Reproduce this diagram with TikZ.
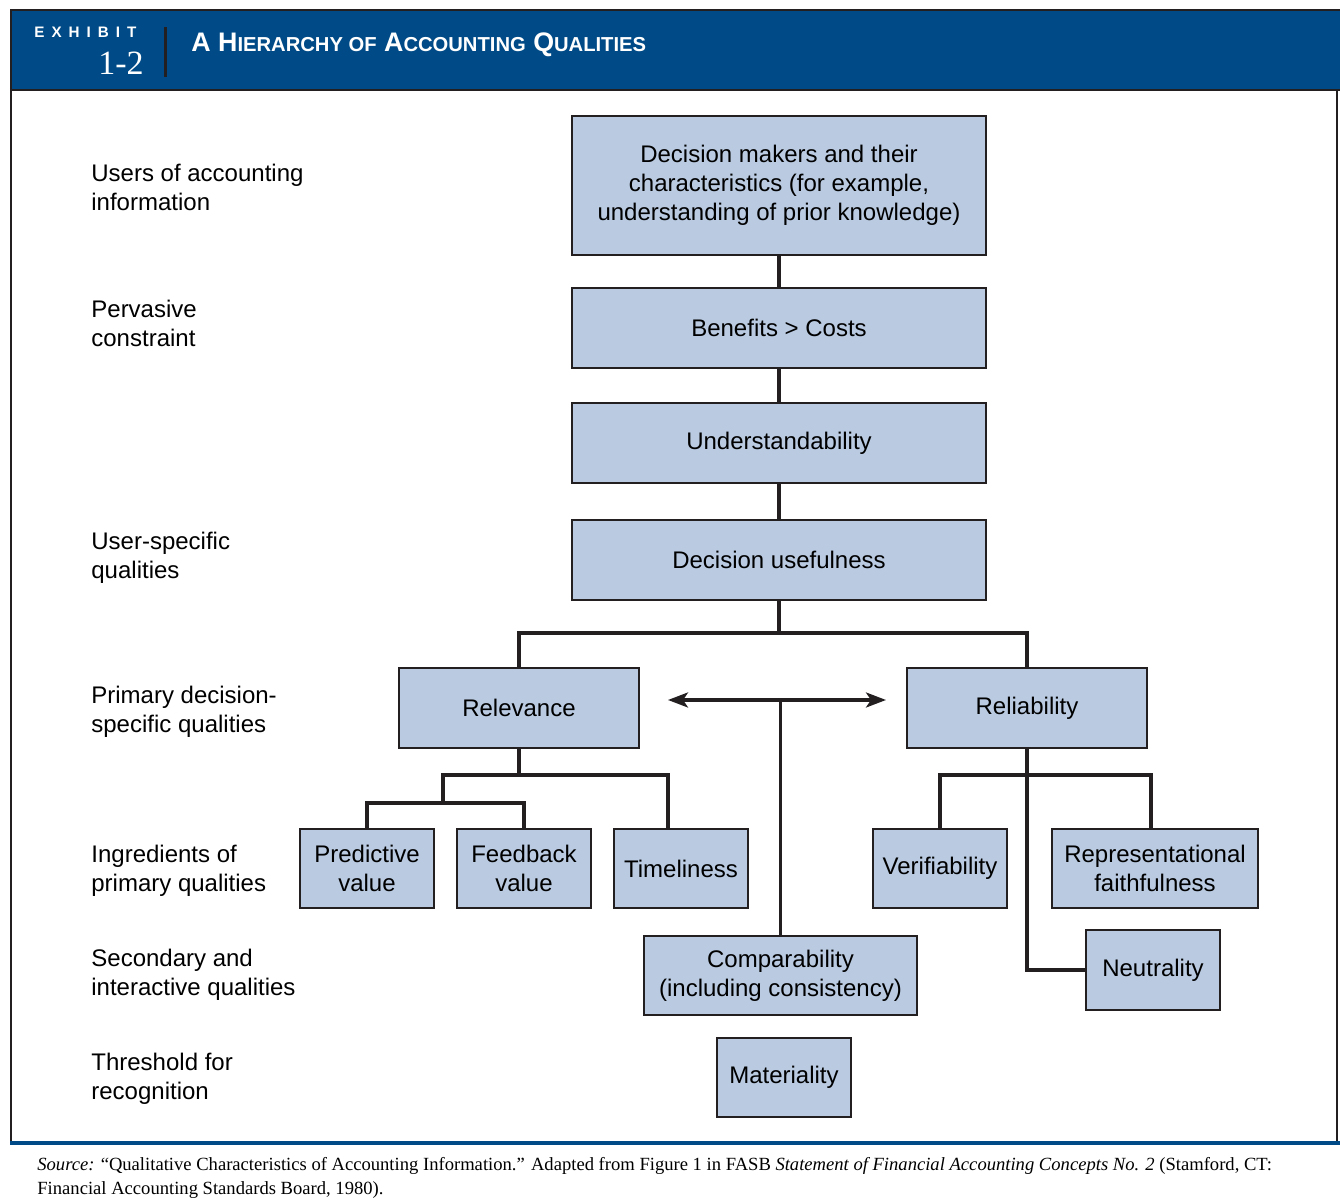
\documentclass[tikz,border=0pt]{standalone}
\usepackage{fontspec}
\setmainfont{Liberation Sans}
\newfontfamily\serifface{Liberation Serif}
\newfontfamily\exhibitface{Liberation Sans}[LetterSpace=46]
\usetikzlibrary{positioning, arrows.meta, calc}
\definecolor{exhibitblue}{RGB}{0, 75, 135}
\definecolor{qualityfill}{RGB}{185, 202, 225}
\definecolor{inkgray}{RGB}{35, 31, 32}
\newcommand{\smcap}[1]{{\fontsize{10.1}{11}\selectfont #1}}

\begin{document}
\begin{tikzpicture}[
    x=0.5pt, y=-0.5pt,
    quality/.style={rectangle, draw=inkgray, line width=0.8pt, fill=qualityfill, align=center, inner sep=2pt, font=\fontsize{12}{14.5}\selectfont},
    wide/.style={quality, minimum width=207pt, minimum height=40pt},
    mid/.style={quality, minimum width=120pt, minimum height=40pt},
    small/.style={quality, minimum width=67pt, minimum height=39.5pt},
    level/.style={anchor=west, align=left, inner sep=0pt, font=\fontsize{12}{14.5}\selectfont},
    link/.style={draw=inkgray, line width=1.6pt},
    twoway/.style={link, {Stealth[length=10pt, width=7.5pt, inset=2.5pt]}-{Stealth[length=10pt, width=7.5pt, inset=2.5pt]}}
]
\useasboundingbox (0,0) rectangle (1340,1202);

% ============ HEADER BAND ============
\fill[exhibitblue] (10,10) rectangle (1340,90);
\draw[inkgray, line width=0.8pt] (10,10) -- (1340,10);
\draw[inkgray, line width=0.8pt] (10,90) -- (1340,90);
\node[anchor=west, white, inner sep=0pt, font=\exhibitface\bfseries\fontsize{7.6}{8}\selectfont] (exhibit-word) at (34,32) {EXHIBIT};
\node[anchor=east, white, inner sep=0pt, font=\serifface\fontsize{17}{18}\selectfont] (exhibit-num) at (144,63) {1-2};
\draw[inkgray, line width=1.5pt] (165,27) -- (165,77);
\node[anchor=west, white, inner sep=0pt, font=\bfseries\fontsize{13.4}{15}\selectfont] (title) at (191,45)
    {A H\smcap{IERARCHY OF} A\smcap{CCOUNTING} Q\smcap{UALITIES}};

% Frame and footer rule
\draw[inkgray, line width=1pt] (11,10) -- (11,1143);
\draw[inkgray, line width=1pt] (1337,90) -- (1337,1143);
\draw[exhibitblue, line width=2pt] (10,1143) -- (1340,1143);

% ============ LEVEL LABELS ============
\node[level] (lvl-users) at (91,187) {Users of accounting\\information};
\node[level] (lvl-constraint) at (91,323) {Pervasive\\constraint};
\node[level] (lvl-user) at (91,558) {User-specific\\qualities};
\node[level] (lvl-primary) at (91,712) {Primary decision-\\specific qualities};
\node[level] (lvl-ingredients) at (91,871) {Ingredients of\\primary qualities};
\node[level] (lvl-secondary) at (91,975) {Secondary and\\interactive qualities};
\node[level] (lvl-threshold) at (91,1079) {Threshold for\\recognition};

% ============ HIERARCHY ============
\node[wide, minimum height=69.5pt] (q-makers) at (779,185.5) {Decision makers and their\\characteristics (for example,\\understanding of prior knowledge)};
\node[wide] (q-benefits) at (779,328) {Benefits > Costs};
\node[wide] (q-understand) at (779,443) {Understandability};
\node[wide] (q-useful) at (779,560) {Decision usefulness};

% Primary qualities
\node[mid] (q-relevance) at (519,708) {Relevance};
\node[mid] (q-reliability) at (1027,708) {Reliability};

% Ingredients
\node[small] (q-predictive) at (367,868.5) {Predictive\\value};
\node[small] (q-feedback) at (524,868.5) {Feedback\\value};
\node[small] (q-timeliness) at (681,868.5) {Timeliness};
\node[small] (q-verifiability) at (940,868.5) {Verifiability};
\node[small, minimum width=103pt] (q-faithful) at (1155,868.5) {Representational\\faithfulness};
\node[small, minimum height=40pt] (q-neutrality) at (1153,970) {Neutrality};

% Secondary and threshold
\node[small, minimum width=136.5pt] (q-comparability) at (780.5,975.5) {Comparability\\(including consistency)};
\node[small] (q-materiality) at (784,1077.5) {Materiality};

% Junctions
\coordinate (useful-split) at (779,633);
\coordinate (relevance-split) at (519,775);
\coordinate (value-split) at (443,803);
\coordinate (timeliness-top) at (668,829);
\coordinate (reliability-split) at (1027,775);
\coordinate (arrow-left) at (668,700);
\coordinate (arrow-right) at (886,700);

% Connectors
\draw[link] (q-makers) -- (q-benefits);
\draw[link] (q-benefits) -- (q-understand);
\draw[link] (q-understand) -- (q-useful);

\draw[link] (q-useful) -- (useful-split);
\draw[link] (useful-split) -| (q-relevance);
\draw[link] (useful-split) -| (q-reliability);

\draw[link] (q-relevance) -- (relevance-split);
\draw[link] (relevance-split) -| (value-split);
\draw[link] (relevance-split) -| (timeliness-top);
\draw[link] (value-split) -| (q-predictive);
\draw[link] (value-split) -| (q-feedback);

\draw[link] (q-reliability) -- (reliability-split);
\draw[link] (reliability-split) -| (q-verifiability);
\draw[link] (reliability-split) -| ([xshift=-2pt]q-faithful.north);
\draw[link] (reliability-split) |- (q-neutrality);

\draw[twoway] (arrow-left) -- (arrow-right);
\draw[link] (q-comparability) -- (q-comparability |- arrow-left);

% ============ SOURCE NOTE ============
\node[anchor=north west, align=left, inner sep=0pt, font=\serifface\fontsize{9.3}{12}\selectfont] (source) at (37,1157)
    {\textit{Source:} “Qualitative Characteristics of Accounting Information.” Adapted from Figure 1 in FASB \textit{Statement of Financial Accounting Concepts No. 2} (Stamford, CT:\\
     Financial Accounting Standards Board, 1980).};

\end{tikzpicture}
\end{document}
